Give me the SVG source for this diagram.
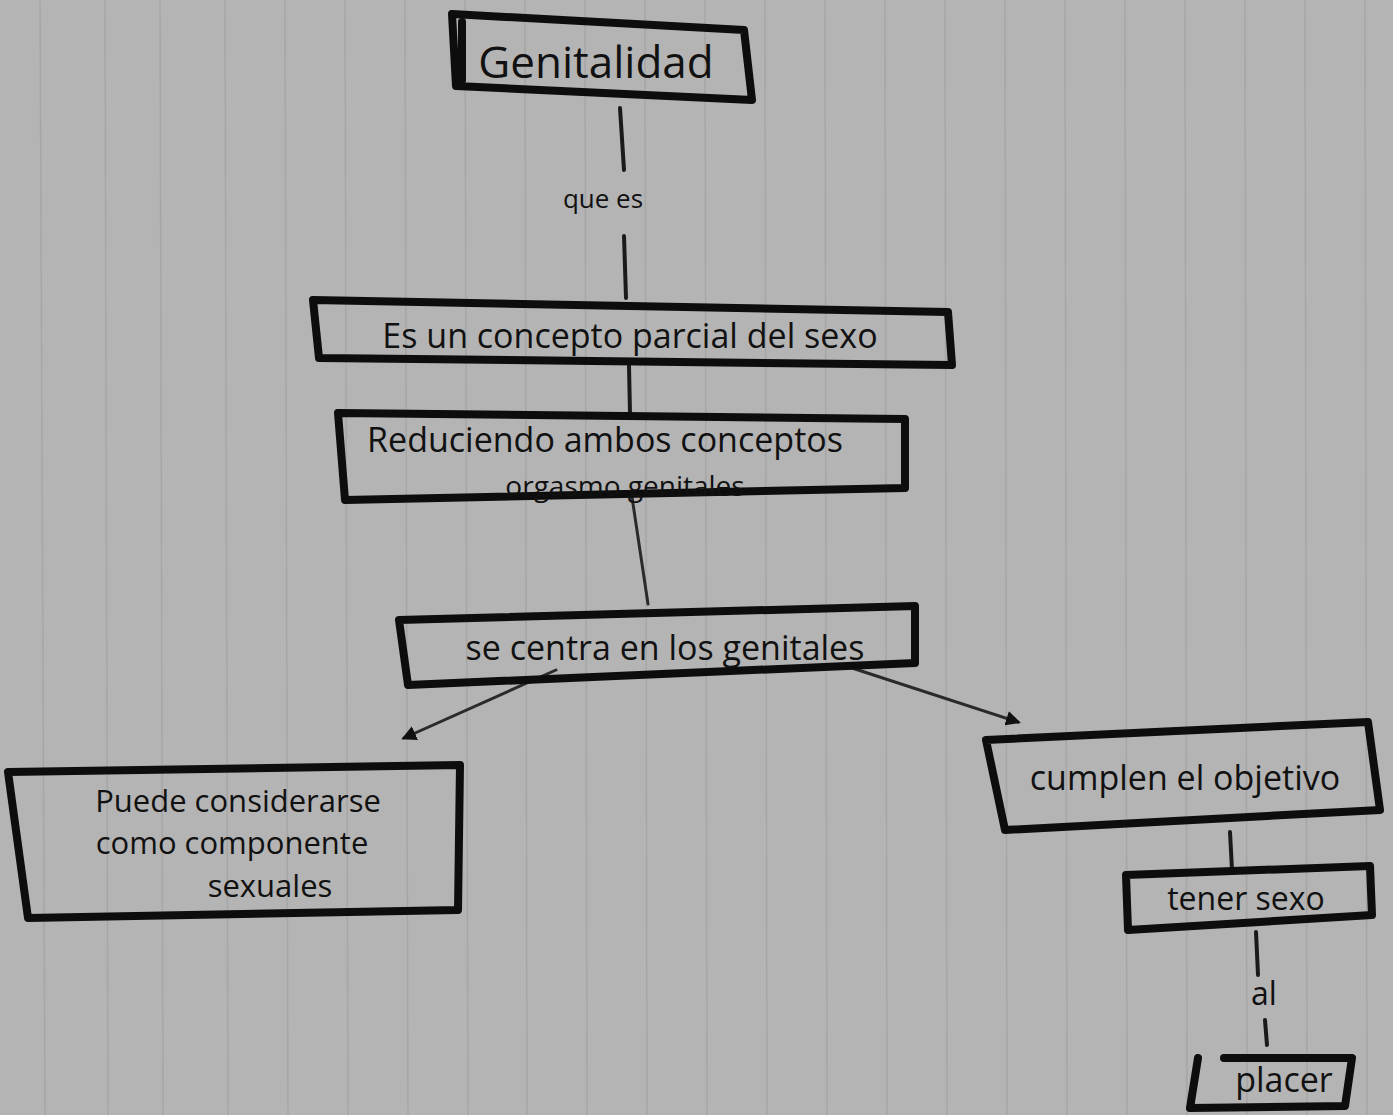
<svg xmlns="http://www.w3.org/2000/svg" width="1393" height="1115" viewBox="0 0 1393 1115">
<defs>
<style>
.bg{fill:#b4b4b4}
.rule{stroke:#a6a6a6;stroke-width:1.5}
.box{fill:none;stroke:#0d0d0d;stroke-width:8;stroke-linejoin:round;stroke-linecap:round}
.ln{fill:none;stroke:#1a1a1a;stroke-width:4;stroke-linecap:round}
.thin{fill:none;stroke:#2a2a2a;stroke-width:3;stroke-linecap:round}
.t{font-family:"Open Sans","Liberation Sans",sans-serif;fill:#111;font-weight:400}
</style>
<marker id="ah" viewBox="0 0 10 10" refX="8" refY="5" markerWidth="5" markerHeight="5" orient="auto">
<path d="M0,0 L10,5 L0,10 z" fill="#111"/>
</marker>
</defs>
<rect class="bg" x="0" y="0" width="1393" height="1115"/>
<g id="rules">
<line class="rule" x1="40" y1="0" x2="45" y2="1115"/>
<line class="rule" x1="105" y1="0" x2="108" y2="1115"/>
<line class="rule" x1="160" y1="0" x2="163" y2="1115"/>
<line class="rule" x1="225" y1="0" x2="228" y2="1115"/>
<line class="rule" x1="285" y1="0" x2="288" y2="1115"/>
<line class="rule" x1="345" y1="0" x2="348" y2="1115"/>
<line class="rule" x1="405" y1="0" x2="408" y2="1115"/>
<line class="rule" x1="465" y1="0" x2="468" y2="1115"/>
<line class="rule" x1="525" y1="0" x2="527" y2="1115"/>
<line class="rule" x1="585" y1="0" x2="587" y2="1115"/>
<line class="rule" x1="645" y1="0" x2="647" y2="1115"/>
<line class="rule" x1="705" y1="0" x2="707" y2="1115"/>
<line class="rule" x1="765" y1="0" x2="767" y2="1115"/>
<line class="rule" x1="825" y1="0" x2="827" y2="1115"/>
<line class="rule" x1="885" y1="0" x2="887" y2="1115"/>
<line class="rule" x1="945" y1="0" x2="947" y2="1115"/>
<line class="rule" x1="1005" y1="0" x2="1007" y2="1115"/>
<line class="rule" x1="1065" y1="0" x2="1067" y2="1115"/>
<line class="rule" x1="1125" y1="0" x2="1127" y2="1115"/>
<line class="rule" x1="1185" y1="0" x2="1187" y2="1115"/>
<line class="rule" x1="1245" y1="0" x2="1247" y2="1115"/>
<line class="rule" x1="1305" y1="0" x2="1307" y2="1115"/>
<line class="rule" x1="1365" y1="0" x2="1367" y2="1115"/>
</g>
<g id="connectors">
<line class="ln" x1="620" y1="108" x2="624" y2="170"/>
<line class="ln" x1="624" y1="236" x2="626" y2="298"/>
<line class="ln" x1="629" y1="366" x2="630" y2="414"/>
<line class="thin" x1="632" y1="497" x2="648" y2="604"/>
<line class="thin" x1="556" y1="670" x2="404" y2="738" marker-end="url(#ah)"/>
<line class="thin" x1="852" y1="668" x2="1018" y2="722" marker-end="url(#ah)"/>
<line class="ln" x1="1230" y1="832" x2="1232" y2="870"/>
<line class="ln" x1="1256" y1="932" x2="1258" y2="975"/>
<line class="ln" x1="1265" y1="1020" x2="1267" y2="1045"/>
<text class="t" x="603" y="208" font-size="26" text-anchor="middle">que es</text>
<text class="t" x="1264" y="1005" font-size="32" text-anchor="middle">al</text>
</g>
<g id="n-genitalidad">
<polygon class="box" points="452,14 744,30 752,100 456,86"/>
<polyline class="box" points="462,22 462,80" stroke-width="5"/>
<text class="t" x="596" y="78" font-size="44" text-anchor="middle">Genitalidad</text>
</g>
<g id="n-concepto">
<polygon class="box" points="313,300 948,312 952,365 319,358"/>
<text class="t" x="630" y="348" font-size="34" text-anchor="middle">Es un concepto parcial del sexo</text>
</g>
<g id="n-reduciendo">
<polygon class="box" points="338,413 905,419 905,488 345,500"/>
<text class="t" x="605" y="452" font-size="34" text-anchor="middle">Reduciendo ambos conceptos</text>
<text class="t" x="625" y="496" font-size="28" text-anchor="middle">orgasmo genitales</text>
</g>
<g id="n-centra">
<polygon class="box" points="399,620 915,606 915,663 408,685"/>
<text class="t" x="665" y="660" font-size="34" text-anchor="middle">se centra en los genitales</text>
</g>
<g id="n-puede">
<polygon class="box" points="8,772 460,765 458,910 28,918"/>
<text class="t" x="238" y="812" font-size="31" text-anchor="middle">Puede considerarse</text>
<text class="t" x="232" y="854" font-size="31" text-anchor="middle">como componente</text>
<text class="t" x="270" y="897" font-size="31" text-anchor="middle">sexuales</text>
</g>
<g id="n-cumplen">
<polygon class="box" points="986,740 1368,722 1380,810 1005,830"/>
<text class="t" x="1185" y="790" font-size="34" text-anchor="middle">cumplen el objetivo</text>
</g>
<g id="n-tener">
<polygon class="box" points="1126,875 1370,866 1372,915 1128,930"/>
<text class="t" x="1246" y="910" font-size="32" text-anchor="middle">tener sexo</text>
</g>
<g id="n-placer">
<polyline class="box" points="1198,1058 1190,1108 1345,1106 1352,1058 1224,1058"/>
<text class="t" x="1284" y="1092" font-size="34" text-anchor="middle">placer</text>
</g>
</svg>
